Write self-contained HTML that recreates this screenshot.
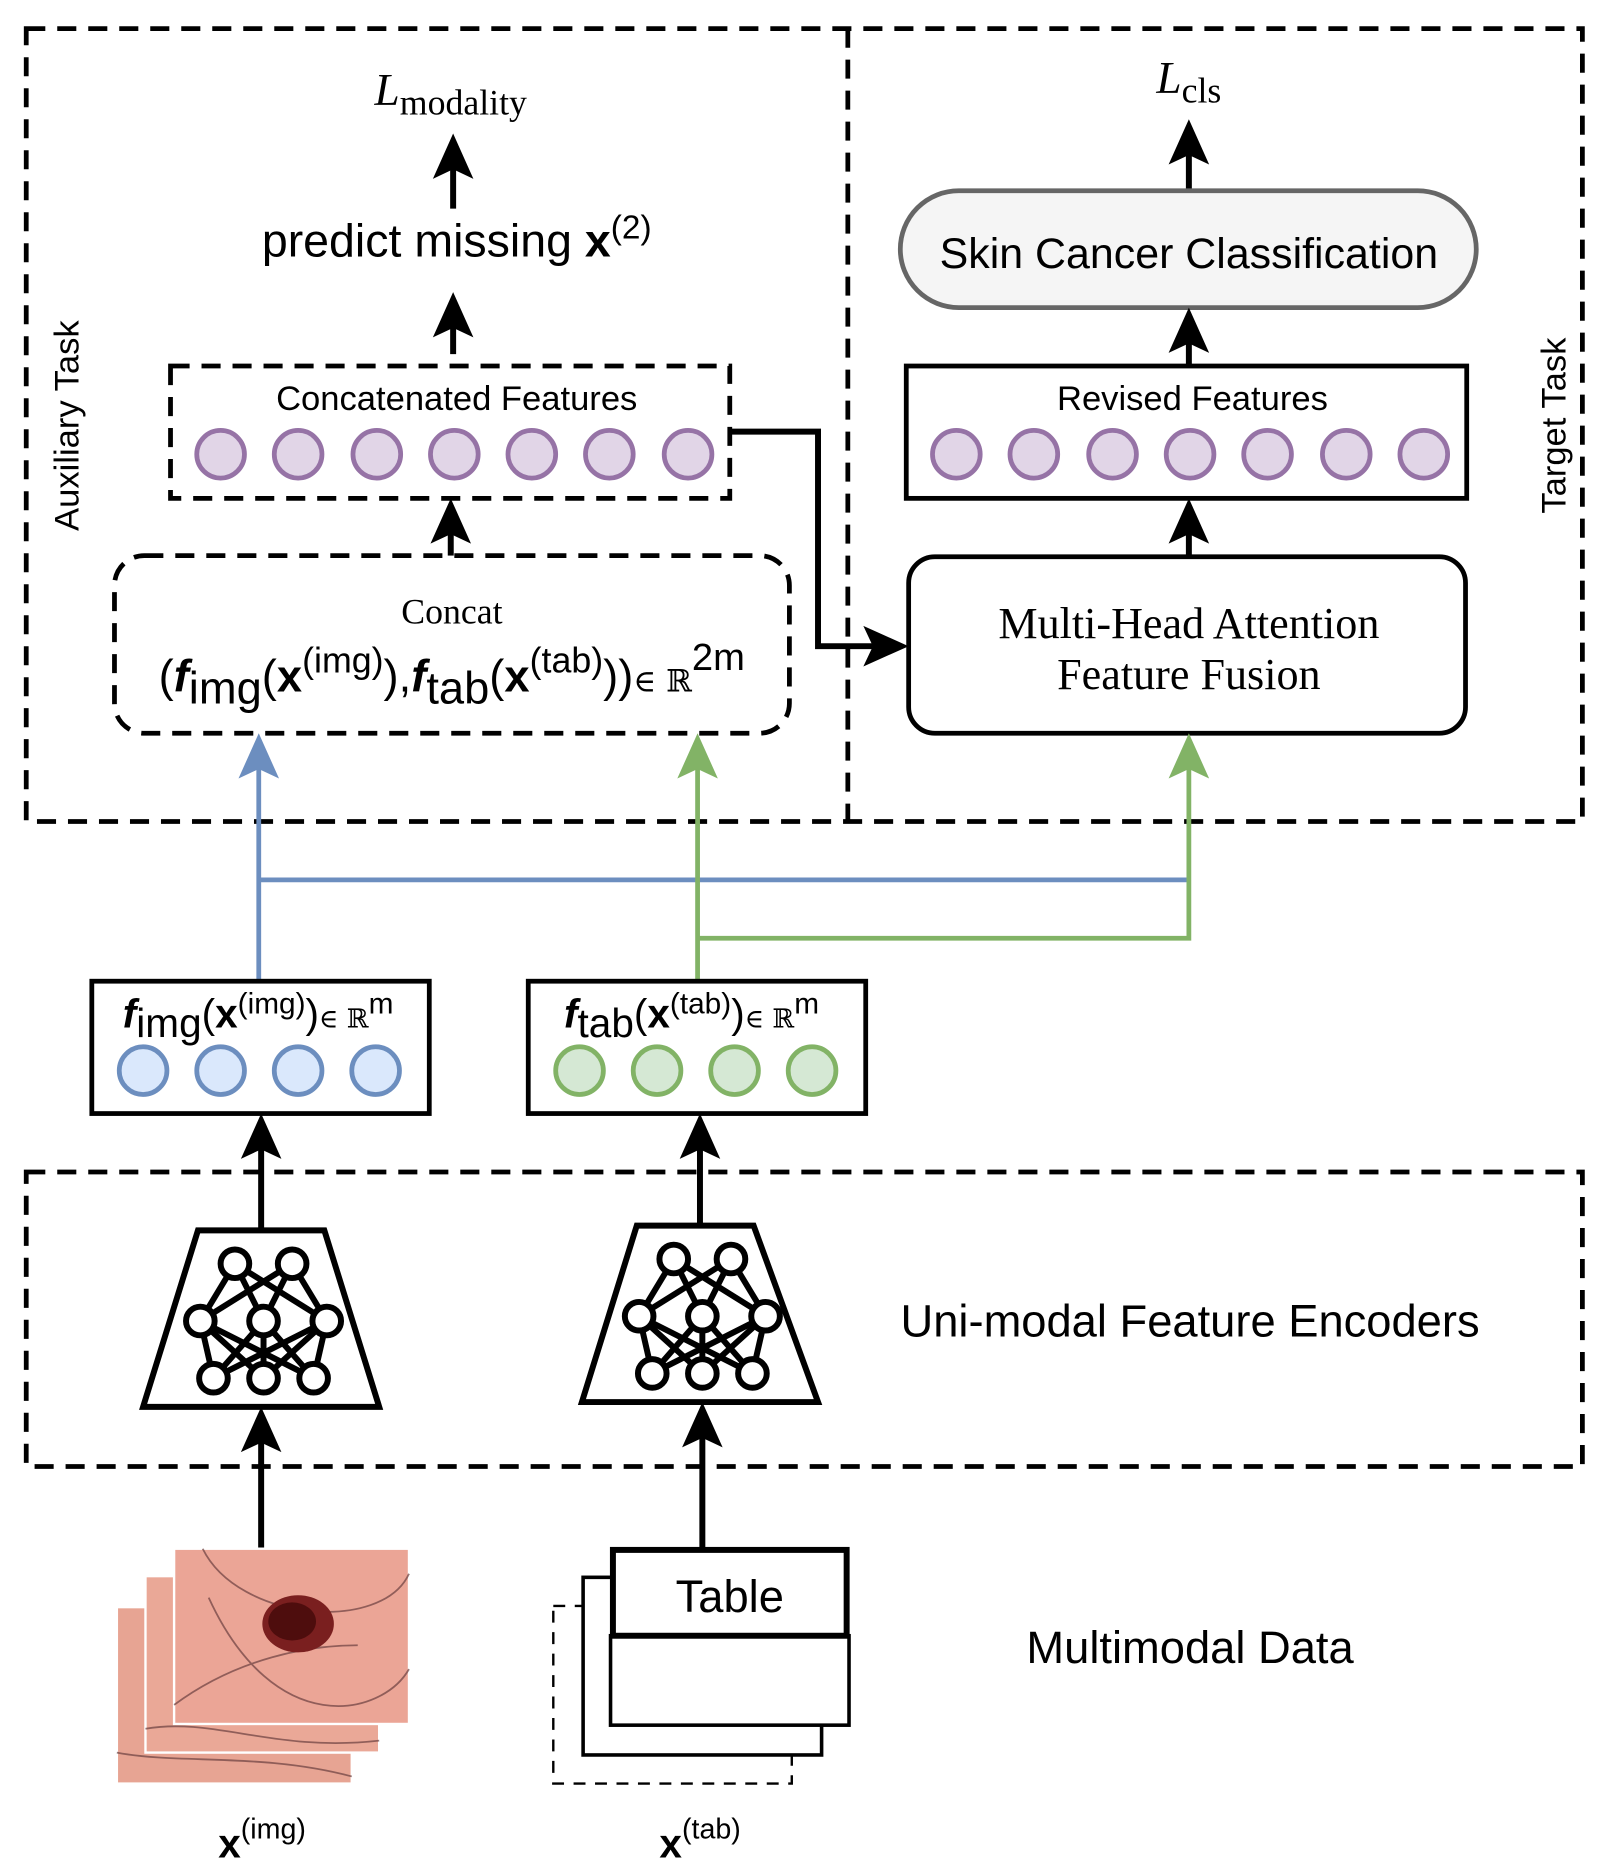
<!DOCTYPE html>
<html><head><meta charset="utf-8"><style>html,body{margin:0;padding:0;background:#fff}svg{display:block}</style></head><body>
<svg width="1611" height="1873" viewBox="0 0 1351 1571" preserveAspectRatio="none" xmlns="http://www.w3.org/2000/svg" font-family="Liberation Sans, sans-serif">
<defs>
<g id="ahb"><polygon points="0,0 -17,38 0,30 17,38" fill="#000"/></g>
<g id="nn" stroke="#000" stroke-width="5" fill="none">
<line x1="-24" y1="-48" x2="-53" y2="0"/><line x1="-24" y1="-48" x2="0" y2="0"/><line x1="-24" y1="-48" x2="53" y2="0"/>
<line x1="24" y1="-48" x2="53" y2="0"/><line x1="24" y1="-48" x2="0" y2="0"/><line x1="24" y1="-48" x2="-53" y2="0"/>
<line x1="-53" y1="0" x2="-42" y2="48"/><line x1="-53" y1="0" x2="0" y2="48"/><line x1="-53" y1="0" x2="42" y2="48"/>
<line x1="0" y1="0" x2="-42" y2="48"/><line x1="0" y1="0" x2="42" y2="48"/><line x1="0" y1="0" x2="0" y2="48"/>
<line x1="53" y1="0" x2="42" y2="48"/><line x1="53" y1="0" x2="0" y2="48"/><line x1="53" y1="0" x2="-42" y2="48"/>
<g fill="#fff"><circle cx="-24" cy="-48" r="12"/><circle cx="24" cy="-48" r="12"/><circle cx="-53" cy="0" r="12"/><circle cx="0" cy="0" r="12"/><circle cx="53" cy="0" r="12"/><circle cx="-42" cy="48" r="12"/><circle cx="0" cy="48" r="12"/><circle cx="42" cy="48" r="12"/></g>
</g>
</defs>
<g fill="none" stroke="#000" stroke-width="4" stroke-dasharray="16,10">
<rect x="22" y="24" width="1305" height="665"/>
<line x1="711" y1="24" x2="711" y2="689"/>
<rect x="143" y="307" width="469" height="111"/>
<rect x="96" y="466" width="566" height="149" rx="25"/>
<rect x="22" y="983" width="1305" height="247"/>
</g>
<text x="378" y="88" text-anchor="middle" font-family="Liberation Serif, serif" font-size="38" font-style="italic">L<tspan font-style="normal" font-size="30" dy="8">modality</tspan></text>
<line x1="380" y1="175" x2="380" y2="140" stroke="#000" stroke-width="5"/><use href="#ahb" x="380" y="112"/>
<text x="383" y="215" text-anchor="middle" font-size="39">predict missing <tspan font-weight="bold">x</tspan><tspan font-size="28" dy="-15">(2)</tspan></text>
<line x1="380" y1="297" x2="380" y2="270" stroke="#000" stroke-width="5"/><use href="#ahb" x="380" y="245"/>
<text x="383" y="344" text-anchor="middle" font-size="29">Concatenated Features</text>
<g fill="#e1d5e7" stroke="#9673a6" stroke-width="4">
<circle cx="185" cy="381" r="20"/><circle cx="250" cy="381" r="20"/><circle cx="316" cy="381" r="20"/><circle cx="381" cy="381" r="20"/><circle cx="446" cy="381" r="20"/><circle cx="511" cy="381" r="20"/><circle cx="577" cy="381" r="20"/>
<circle cx="802" cy="381" r="20"/><circle cx="867" cy="381" r="20"/><circle cx="933" cy="381" r="20"/><circle cx="998" cy="381" r="20"/><circle cx="1063" cy="381" r="20"/><circle cx="1129" cy="381" r="20"/><circle cx="1194" cy="381" r="20"/>
</g>
<line x1="378" y1="466" x2="378" y2="445" stroke="#000" stroke-width="5"/><use href="#ahb" x="378" y="418"/>
<text x="379" y="523" text-anchor="middle" font-family="Liberation Serif, serif" font-size="30">Concat</text>
<text x="133" y="580" font-size="38">(<tspan font-weight="bold" font-style="italic">f</tspan><tspan dy="10">img</tspan><tspan dy="-10">(</tspan><tspan font-weight="bold">x</tspan><tspan font-size="30" dy="-16">(img)</tspan><tspan dy="16">),</tspan><tspan font-weight="bold" font-style="italic">f</tspan><tspan dy="10">tab</tspan><tspan dy="-10">(</tspan><tspan font-weight="bold">x</tspan><tspan font-size="30" dy="-16">(tab)</tspan><tspan dy="16">))</tspan><tspan font-size="26" font-family="DejaVu Serif, serif">∈ ℝ</tspan><tspan font-size="32" dy="-18">2m</tspan></text>
<polyline points="612,362 686,362 686,542 735,542" fill="none" stroke="#000" stroke-width="5"/>
<polygon points="762,542 724,525 732,542 724,559" fill="#000"/>
<text x="997" y="78" text-anchor="middle" font-family="Liberation Serif, serif" font-size="38" font-style="italic">L<tspan font-style="normal" font-size="30" dy="8">cls</tspan></text>
<line x1="997" y1="160" x2="997" y2="128" stroke="#000" stroke-width="5"/><use href="#ahb" x="997" y="100"/>
<rect x="755" y="160" width="483" height="98" rx="49" fill="#f5f5f5" stroke="#666" stroke-width="4"/>
<text x="997" y="225" text-anchor="middle" font-size="36">Skin Cancer Classification</text>
<line x1="997" y1="307" x2="997" y2="285" stroke="#000" stroke-width="5"/><use href="#ahb" x="997" y="258"/>
<rect x="760" y="307" width="470" height="111" fill="none" stroke="#000" stroke-width="4"/>
<text x="1000" y="344" text-anchor="middle" font-size="29">Revised Features</text>
<line x1="997" y1="467" x2="997" y2="445" stroke="#000" stroke-width="5"/><use href="#ahb" x="997" y="418"/>
<rect x="762" y="467" width="467" height="148" rx="22" fill="#fff" stroke="#000" stroke-width="4"/>
<text x="997" y="535" text-anchor="middle" font-family="Liberation Serif, serif" font-size="37">Multi-Head Attention</text>
<text x="997" y="578" text-anchor="middle" font-family="Liberation Serif, serif" font-size="37">Feature Fusion</text>
<text transform="translate(66,357) rotate(-90)" text-anchor="middle" font-size="29">Auxiliary Task</text>
<text transform="translate(1313,357) rotate(-90)" text-anchor="middle" font-size="29">Target Task</text>
<g fill="none" stroke="#6c8ebf" stroke-width="4"><polyline points="217,822 217,645"/><polyline points="217,738 995,738"/></g>
<polygon points="217,615 200,653 217,645 234,653" fill="#6c8ebf"/>
<g fill="none" stroke="#82b366" stroke-width="4"><polyline points="585,822 585,645"/><polyline points="585,787 997,787 997,645"/></g>
<polygon points="585,615 568,653 585,645 602,653" fill="#82b366"/>
<polygon points="997,615 980,653 997,645 1014,653" fill="#82b366"/>
<rect x="77" y="823" width="283" height="111" fill="#fff" stroke="#000" stroke-width="4"/>
<rect x="443" y="823" width="283" height="111" fill="#fff" stroke="#000" stroke-width="4"/>
<text x="103" y="862" font-size="34"><tspan font-weight="bold" font-style="italic">f</tspan><tspan dy="8">img</tspan><tspan dy="-8">(</tspan><tspan font-weight="bold">x</tspan><tspan font-size="25" dy="-12">(img)</tspan><tspan dy="12">)</tspan><tspan font-size="22" font-family="DejaVu Serif, serif">∈ ℝ</tspan><tspan font-size="25" dy="-12">m</tspan></text>
<text x="473" y="862" font-size="34"><tspan font-weight="bold" font-style="italic">f</tspan><tspan dy="8">tab</tspan><tspan dy="-8">(</tspan><tspan font-weight="bold">x</tspan><tspan font-size="25" dy="-12">(tab)</tspan><tspan dy="12">)</tspan><tspan font-size="22" font-family="DejaVu Serif, serif">∈ ℝ</tspan><tspan font-size="25" dy="-12">m</tspan></text>
<g fill="#dae8fc" stroke="#6c8ebf" stroke-width="4"><circle cx="120" cy="898" r="20"/><circle cx="185" cy="898" r="20"/><circle cx="250" cy="898" r="20"/><circle cx="315" cy="898" r="20"/></g>
<g fill="#d5e8d4" stroke="#82b366" stroke-width="4"><circle cx="486" cy="898" r="20"/><circle cx="551" cy="898" r="20"/><circle cx="616" cy="898" r="20"/><circle cx="681" cy="898" r="20"/></g>
<line x1="219" y1="1032" x2="219" y2="960" stroke="#000" stroke-width="5"/><use href="#ahb" x="219" y="934"/>
<line x1="587" y1="1028" x2="587" y2="960" stroke="#000" stroke-width="5"/><use href="#ahb" x="587" y="934"/>
<polygon points="166,1032 272,1032 318,1180 120,1180" fill="#fff" stroke="#000" stroke-width="5"/>
<polygon points="534,1028 632,1028 686,1176 488,1176" fill="#fff" stroke="#000" stroke-width="5"/>
<use href="#nn" x="221" y="1108"/>
<use href="#nn" x="589" y="1104"/>
<text x="998" y="1121" text-anchor="middle" font-size="38">Uni-modal Feature Encoders</text>
<line x1="219" y1="1300" x2="219" y2="1208" stroke="#000" stroke-width="5"/><use href="#ahb" x="219" y="1180"/>
<line x1="589" y1="1298" x2="589" y2="1204" stroke="#000" stroke-width="5"/><use href="#ahb" x="589" y="1176"/>
<g stroke="#fff" stroke-width="2">
<rect x="98" y="1348" width="197" height="148" fill="#e7a493"/>
<rect x="122" y="1322" width="196" height="148" fill="#eaa897"/>
<rect x="146" y="1299" width="197" height="147" fill="#eba596"/>
</g>
<g fill="none" stroke="#6b4040" stroke-width="1.5" opacity="0.7">
<path d="M170,1299 C200,1360 320,1370 343,1320"/><path d="M175,1340 C230,1460 320,1440 343,1400"/><path d="M146,1430 C200,1390 260,1380 300,1380"/><path d="M122,1450 C180,1440 230,1470 318,1460"/><path d="M98,1470 C150,1480 220,1470 295,1490"/>
</g>
<ellipse cx="250" cy="1362" rx="30" ry="24" fill="#7a1f1f"/><ellipse cx="245" cy="1360" rx="20" ry="16" fill="#4e0d0d"/>
<rect x="464" y="1347" width="200" height="149" fill="none" stroke="#000" stroke-width="2" stroke-dasharray="10,8"/>
<rect x="489" y="1323" width="200" height="149" fill="#fff" stroke="#000" stroke-width="3"/>
<rect x="512" y="1372" width="200" height="75" fill="#fff" stroke="#000" stroke-width="3"/>
<rect x="514" y="1300" width="196" height="72" fill="#fff" stroke="#000" stroke-width="5"/>
<text x="612" y="1352" text-anchor="middle" font-size="38">Table</text>
<text x="998" y="1395" text-anchor="middle" font-size="38">Multimodal Data</text>
<text x="183" y="1558" font-size="34" font-weight="bold">x<tspan font-weight="normal" font-size="24" dy="-16">(img)</tspan></text>
<text x="553" y="1558" font-size="34" font-weight="bold">x<tspan font-weight="normal" font-size="24" dy="-16">(tab)</tspan></text>
</svg>
</body></html>
